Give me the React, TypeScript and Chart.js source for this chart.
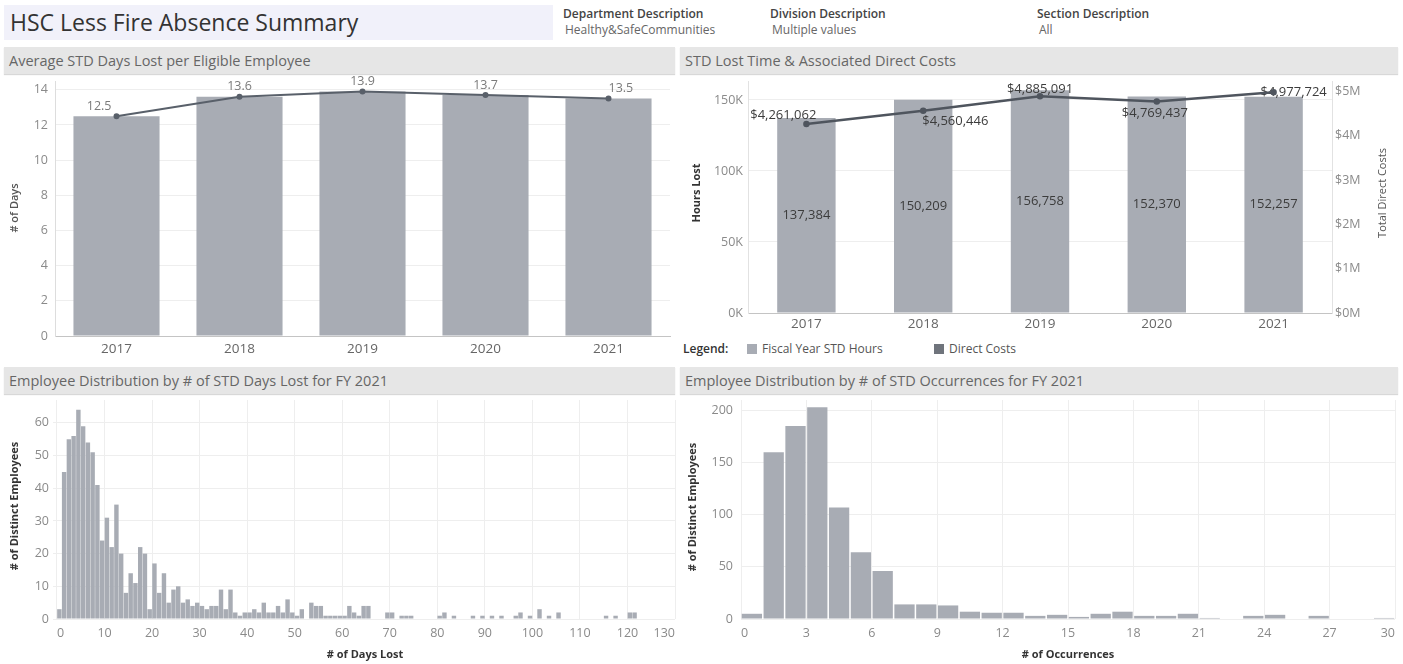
import React, { useEffect, useRef } from 'react';
import { Chart, registerables } from 'chart.js';

Chart.register(...registerables);

const FONT = '"Open Sans", "Noto Sans", Arial, sans-serif';

// ---------- Data ----------
const years = ['2017', '2018', '2019', '2020', '2021'];
const avgStdDaysLost = [12.5, 13.6, 13.9, 13.7, 13.5];

const stdHoursLost = [137384, 150209, 156758, 152370, 152257];
const directCosts = [4261062, 4560446, 4885091, 4769437, 4977724];
const hoursTicks = [0, 50000, 100000, 150000];
const costTicks = [0, 1000000, 2000000, 3000000, 4000000, 5000000];

// # of distinct employees per STD days-lost bin (bin i = days i..i+1), FY 2021
const daysLostEmployees = [
  3, 45, 55, 56, 64, 59, 54, 51, 41, 24,
  31, 22, 35, 20, 8, 14, 11, 22, 20, 3,
  17, 8, 14, 5, 9, 10, 5, 6, 4, 5,
  4, 3, 4, 4, 9, 3, 9, 2, 1, 2,
  2, 3, 2, 5, 2, 2, 4, 2, 6, 2,
  1, 3, 0, 5, 4, 4, 1, 1, 1, 1,
  1, 4, 2, 1, 4, 4, 0, 0, 0, 2,
  2, 0, 1, 1, 1, 0, 0, 0, 0, 0,
  1, 2, 0, 1, 0, 0, 0, 1, 0, 1,
  0, 1, 0, 1, 0, 0, 1, 2, 0, 1,
  0, 3, 0, 1, 0, 2, 0, 0, 0, 0,
  0, 0, 0, 0, 0, 1, 0, 1, 0, 0,
  2, 2,
];

// # of distinct employees per # of STD occurrences (bin i = i..i+1), FY 2021
const occurrenceEmployees = [
  5, 160, 185, 203, 107, 64, 46, 14, 14, 13,
  7, 6, 6, 3, 4, 2, 5, 7, 3, 3,
  5, 1, 0, 3, 4, 0, 3, 0, 0, 1,
];

// ---------- Styling ----------
const BAR = '#a8acb4';
const LINE = '#59606a';
const GRID = '#eeeeee';
const TICK = '#8a8a8a';

const fixW = (w: number) => (s: any) => {
  s.width = w;
  s.paddingTop = 0; s.paddingBottom = 0; s.paddingLeft = 0; s.paddingRight = 0;
};
const fixH = (h: number) => (s: any) => {
  s.height = h;
  s.paddingTop = 0; s.paddingBottom = 0; s.paddingLeft = 0; s.paddingRight = 0;
};
const setTicks = (vals: number[]) => (s: any) => {
  s.ticks = vals.map((v) => ({ value: v }));
};

type TextItem = { text: string; x: number; y: number; rot?: number; font: string; color: string };
const textPlugin = (id: string, items: TextItem[]) => ({
  id,
  afterDraw(chart: any) {
    const ctx = chart.ctx;
    items.forEach((it) => {
      ctx.save();
      ctx.translate(it.x, it.y);
      if (it.rot) ctx.rotate(it.rot);
      ctx.font = it.font;
      ctx.fillStyle = it.color;
      ctx.textAlign = 'center';
      ctx.textBaseline = 'middle';
      ctx.fillText(it.text, 0, 0);
      ctx.restore();
    });
  },
});

const base = {
  responsive: false,
  animation: false as const,
  events: [] as any[],
  plugins: { legend: { display: false }, tooltip: { enabled: false } },
};

function ChartBox({ left, top, width, height, make }: any) {
  const ref = useRef<HTMLCanvasElement>(null);
  useEffect(() => {
    const chart = new Chart(ref.current as HTMLCanvasElement, make());
    return () => chart.destroy();
  }, []);
  return (
    <canvas
      ref={ref}
      width={width}
      height={height}
      style={{ position: 'absolute', left, top, width, height }}
    />
  );
}

// ---------- Chart 1 ----------
const makeAvgDays = (): any => ({
  type: 'bar',
  data: {
    labels: years,
    datasets: [
      {
        type: 'line',
        data: avgStdDaysLost,
        borderColor: LINE,
        backgroundColor: LINE,
        borderWidth: 2,
        pointRadius: 2,
        order: 0,
      },
      {
        type: 'bar',
        data: avgStdDaysLost,
        backgroundColor: BAR,
        categoryPercentage: 1,
        barPercentage: 0.7,
        order: 1,
      },
    ],
  },
  options: {
    ...base,
    layout: { padding: { top: 3, right: 3, left: 0, bottom: 0 } },
    scales: {
      x: {
        grid: { display: false, drawTicks: false },
        border: { color: '#c4c4c4' },
        ticks: { color: '#666', font: { family: FONT, size: 13.5 }, padding: 5 },
        afterFit: fixH(29),
      },
      y: {
        min: 0,
        max: 14.5,
        ticks: { stepSize: 2, includeBounds: false, color: TICK, font: { family: FONT, size: 12.5 }, padding: 7 },
        grid: { color: GRID, drawTicks: false },
        border: { color: '#dddddd' },
        afterFit: fixW(51),
      },
    },
  },
  plugins: [
    {
      id: 'avgLabels',
      afterDatasetDraw(chart: any, args: any) {
        if (args.index !== 1) return;
        const ctx = chart.ctx;
        const pts = chart.getDatasetMeta(0).data;
        ctx.save();
        ctx.font = `12.5px ${FONT}`;
        ctx.fillStyle = '#7a7a7a';
        ctx.textBaseline = 'middle';
        pts.forEach((p: any, i: number) => {
          const last = i === pts.length - 1;
          ctx.textAlign = i === 0 ? 'right' : last ? 'left' : 'center';
          const dx = i === 0 ? -5 : 0;
          ctx.fillText(avgStdDaysLost[i].toFixed(1), p.x + dx, p.y - 10);
        });
        ctx.restore();
      },
    },
    textPlugin('avgTitles', [
      { text: '# of Days', x: 11, y: 133, rot: -Math.PI / 2, font: `600 11px ${FONT}`, color: '#555' },
    ]),
  ],
});

// ---------- Chart 2 ----------
const costLabelPlacement = [
  { dx: 10, dy: -9, align: 'right' },
  { dx: -1, dy: 11, align: 'left' },
  { dx: 0, dy: -7, align: 'center' },
  { dx: -2, dy: 12, align: 'center' },
  { dx: -13, dy: 0, align: 'left' },
];

const makeLostTime = (): any => ({
  type: 'bar',
  data: {
    labels: years,
    datasets: [
      {
        type: 'line',
        data: directCosts,
        yAxisID: 'y1',
        borderColor: '#4f555e',
        backgroundColor: '#4f555e',
        borderWidth: 2.5,
        pointRadius: 2,
        order: 0,
      },
      {
        type: 'bar',
        data: stdHoursLost,
        yAxisID: 'y',
        backgroundColor: BAR,
        categoryPercentage: 1,
        barPercentage: 0.5,
        order: 1,
      },
    ],
  },
  options: {
    ...base,
    layout: { padding: { top: 3, right: 0, left: 0, bottom: 0 } },
    scales: {
      x: {
        grid: { display: false, drawTicks: false },
        border: { color: '#c4c4c4' },
        ticks: { color: '#666', font: { family: FONT, size: 13.5 }, padding: 3 },
        afterFit: fixH(27),
      },
      y: {
        position: 'left',
        min: 0,
        max: 163000,
        afterBuildTicks: setTicks(hoursTicks),
        ticks: {
          color: TICK,
          font: { family: FONT, size: 12.5 },
          padding: 5,
          callback: (v: any) => `${Math.round(v / 1000)}K`,
        },
        grid: { color: GRID, drawTicks: false },
        border: { color: '#e2e2e2' },
        afterFit: fixW(68),
      },
      y1: {
        position: 'right',
        min: 0,
        max: 5220000,
        afterBuildTicks: setTicks(costTicks),
        ticks: {
          color: TICK,
          font: { family: FONT, size: 12.5 },
          padding: 3,
          callback: (v: any) => `$${Math.round(v / 1000000)}M`,
        },
        grid: { display: false, drawTicks: false },
        border: { color: '#e2e2e2' },
        afterFit: fixW(66),
      },
    },
  },
  plugins: [
    {
      id: 'costLabels',
      afterDatasetDraw(chart: any, args: any) {
        if (args.index !== 1) return;
        const ctx = chart.ctx;
        ctx.save();
        ctx.font = `13px ${FONT}`;
        ctx.fillStyle = '#3c3c3c';
        ctx.textBaseline = 'middle';
        ctx.textAlign = 'center';
        chart.getDatasetMeta(1).data.forEach((b: any, i: number) => {
          ctx.fillText(stdHoursLost[i].toLocaleString('en-US'), b.x, (b.y + b.base) / 2);
        });
        chart.getDatasetMeta(0).data.forEach((p: any, i: number) => {
          const pl = costLabelPlacement[i];
          ctx.textAlign = pl.align;
          ctx.fillText('$' + directCosts[i].toLocaleString('en-US'), p.x + pl.dx, p.y + pl.dy);
        });
        ctx.restore();
      },
    },
    textPlugin('costTitles', [
      { text: 'Hours Lost', x: 17, y: 118, rot: -Math.PI / 2, font: `bold 11px ${FONT}`, color: '#333' },
      { text: 'Total Direct Costs', x: 703, y: 118, rot: -Math.PI / 2, font: `11px ${FONT}`, color: '#555' },
    ]),
  ],
});

// ---------- Histograms ----------
const makeHistogram = (
  counts: number[],
  xMin: number,
  xMax: number,
  xStep: number,
  yMax: number,
  yStep: number,
  yWidth: number,
  yPad: number,
  titles: TextItem[],
  id: string,
): any => ({
  type: 'bar',
  data: {
    datasets: [
      {
        data: counts.map((c, i) => ({ x: i + 0.5, y: c })),
        backgroundColor: BAR,
        borderWidth: 0,
        categoryPercentage: 1,
        barPercentage: 0.93,
      },
    ],
  },
  options: {
    ...base,
    layout: { padding: { top: 5, right: 3, left: 0, bottom: 0 } },
    scales: {
      x: {
        type: 'linear',
        offset: false,
        min: xMin,
        max: xMax,
        ticks: {
          stepSize: xStep,
          includeBounds: false,
          align: 'inner',
          maxRotation: 0,
          autoSkip: false,
          color: TICK,
          font: { family: FONT, size: 12.5 },
          padding: 7,
        },
        grid: { color: GRID, offset: false, drawTicks: false },
        border: { display: false },
        afterFit: fixH(45),
      },
      y: {
        min: 0,
        max: yMax,
        ticks: { stepSize: yStep, includeBounds: false, color: TICK, font: { family: FONT, size: 12.5 }, padding: yPad },
        grid: { color: GRID, drawTicks: false },
        border: { display: false },
        afterFit: fixW(yWidth),
      },
    },
  },
  plugins: [textPlugin(id, titles)],
});

const makeDaysHist = () =>
  makeHistogram(daysLostEmployees, -0.84, 130, 10, 67, 10, 49, 4, [
    { text: '# of Distinct Employees', x: 11, y: 111, rot: -Math.PI / 2, font: `bold 11px ${FONT}`, color: '#333' },
    { text: '# of Days Lost', x: 361, y: 260, font: `bold 11px ${FONT}`, color: '#333' },
  ], 'daysTitles');

const makeOccHist = () =>
  makeHistogram(occurrenceEmployees, 0, 30, 3, 210, 50, 61, 8, [
    { text: '# of Distinct Employees', x: 13, y: 112, rot: -Math.PI / 2, font: `bold 11px ${FONT}`, color: '#333' },
    { text: '# of Occurrences', x: 388, y: 260, font: `bold 11px ${FONT}`, color: '#333' },
  ], 'occTitles');

// ---------- Layout ----------
const abs = (left: number, top: number, width: number, height: number, extra: any = {}) => ({
  position: 'absolute' as const, left, top, width, height, ...extra,
});

function Header({ left, top, width, text }: any) {
  return (
    <div style={abs(left, top, width, 27, { background: '#e6e6e6', boxShadow: '0 1px 1px #d8d8d8' })}>
      <div style={{ position: 'absolute', left: 5, top: 0, lineHeight: '27px', fontSize: 14.5, color: '#666', whiteSpace: 'nowrap' }}>
        {text}
      </div>
    </div>
  );
}

function Filter({ left, label, value }: any) {
  return (
    <>
      <div style={abs(left, 5, 260, 18, { fontSize: 12, lineHeight: '18px', color: '#444', fontWeight: 600 })}>{label}</div>
      <div style={abs(left + 2, 21, 260, 18, { fontSize: 12, lineHeight: '18px', color: '#666' })}>{value}</div>
    </>
  );
}

export default function App() {
  return (
    <div style={abs(0, 0, 1403, 664, { background: '#fff', overflow: 'hidden', fontFamily: FONT })}>
      <div style={abs(4, 5, 549, 35, { background: '#f1f1fa' })}>
        <div style={{ position: 'absolute', left: 6, top: 0, lineHeight: '35px', fontSize: 23, color: '#333', whiteSpace: 'nowrap' }}>
          HSC Less Fire Absence Summary
        </div>
      </div>
      <Filter left={563} label="Department Description" value="Healthy&SafeCommunities" />
      <Filter left={770} label="Division Description" value="Multiple values" />
      <Filter left={1037} label="Section Description" value="All" />

      <Header left={4} top={47} width={671} text="Average STD Days Lost per Eligible Employee" />
      <Header left={680} top={47} width={718} text="STD Lost Time & Associated Direct Costs" />
      <Header left={4} top={367} width={671} text="Employee Distribution by # of STD Days Lost for FY 2021" />
      <Header left={680} top={367} width={718} text="Employee Distribution by # of STD Occurrences for FY 2021" />

      <ChartBox left={4} top={75} width={672} height={290} make={makeAvgDays} />
      <ChartBox left={680} top={75} width={718} height={265} make={makeLostTime} />
      <ChartBox left={4} top={395} width={674} height={269} make={makeDaysHist} />
      <ChartBox left={680} top={395} width={718} height={269} make={makeOccHist} />

      <div style={abs(683, 340, 60, 18, { fontSize: 12, lineHeight: '18px', color: '#333', fontWeight: 600 })}>Legend:</div>
      <div style={abs(747, 344, 10, 10, { background: BAR })} />
      <div style={abs(762, 340, 170, 18, { fontSize: 12, lineHeight: '18px', color: '#555', whiteSpace: 'nowrap' })}>Fiscal Year STD Hours</div>
      <div style={abs(934, 344, 10, 10, { background: '#6f747c' })} />
      <div style={abs(949, 340, 120, 18, { fontSize: 12, lineHeight: '18px', color: '#555', whiteSpace: 'nowrap' })}>Direct Costs</div>
    </div>
  );
}
